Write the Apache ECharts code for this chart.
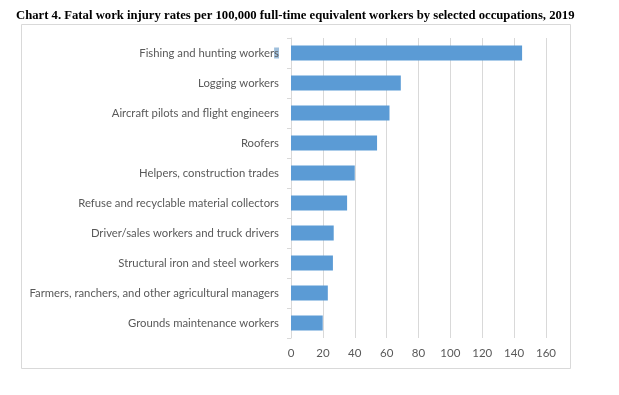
<!DOCTYPE html>
<html>
<head>
<meta charset="utf-8">
<script src="https://cdn.jsdelivr.net/npm/echarts@6/dist/echarts.min.js"></script>
<style>
html,body{margin:0;padding:0;background:#fff;}
#c{width:619px;height:395px;}
</style>
</head>
<body>
<div id="c"></div>
<script>
const titleText = 'Chart 4. Fatal work injury rates per 100,000 full-time equivalent workers by selected occupations, 2019';
const occupations = [
  'Fishing and hunting workers',
  'Logging workers',
  'Aircraft pilots and flight engineers',
  'Roofers',
  'Helpers, construction trades',
  'Refuse and recyclable material collectors',
  'Driver/sales workers and truck drivers',
  'Structural iron and steel workers',
  'Farmers, ranchers, and other agricultural managers',
  'Grounds maintenance workers'
];
const rates = [145.0, 68.9, 61.8, 54.0, 40.0, 35.2, 26.8, 26.3, 23.1, 19.9];
const xMin = 0, xMax = 160, xStep = 20;

const labelFont = 'Lato, "Open Sans", sans-serif';
const chart = echarts.init(document.getElementById('c'), null, {renderer: 'canvas'});
chart.setOption({
  animation: false,
  backgroundColor: '#ffffff',
  title: {
    text: titleText,
    left: 16,
    top: 9,
    padding: 0,
    textStyle: {fontFamily: '"Liberation Serif", "Times New Roman", serif', fontWeight: 'bold', fontSize: 12.7, color: '#000'}
  },
  graphic: [{
    type: 'rect',
    shape: {x: 21.5, y: 24.5, width: 549, height: 344},
    style: {fill: 'none', stroke: '#d9d9d9', lineWidth: 1},
    z: -1
  }],
  grid: {left: 291, right: 73, top: 38, bottom: 57, containLabel: false},
  xAxis: {
    type: 'value',
    min: xMin, max: xMax, interval: xStep,
    axisLine: {show: false},
    axisTick: {show: false},
    splitLine: {show: true, lineStyle: {color: '#d9d9d9', width: 1}},
    axisLabel: {color: '#595959', fontFamily: labelFont, fontSize: 11.5, margin: 9}
  },
  yAxis: {
    type: 'category',
    data: occupations,
    inverse: true,
    axisLine: {show: true, lineStyle: {color: '#d9d9d9', width: 1}},
    axisTick: {show: true, length: 4, lineStyle: {color: '#d9d9d9'}},
    axisLabel: {
      color: '#595959', fontFamily: labelFont, fontSize: 11.3, margin: 12,
      formatter: function (v) {
        if (v === occupations[0]) return v.slice(0, -1) + '{h|' + v.slice(-1) + '}';
        return v;
      },
      rich: {h: {backgroundColor: '#9fbfdc', color: '#595959', fontFamily: labelFont, fontSize: 11.3}}
    }
  },
  series: [{
    type: 'bar',
    data: rates,
    barCategoryGap: '50%',
    itemStyle: {color: '#5b9bd5'}
  }]
});
</script>
</body>
</html>
